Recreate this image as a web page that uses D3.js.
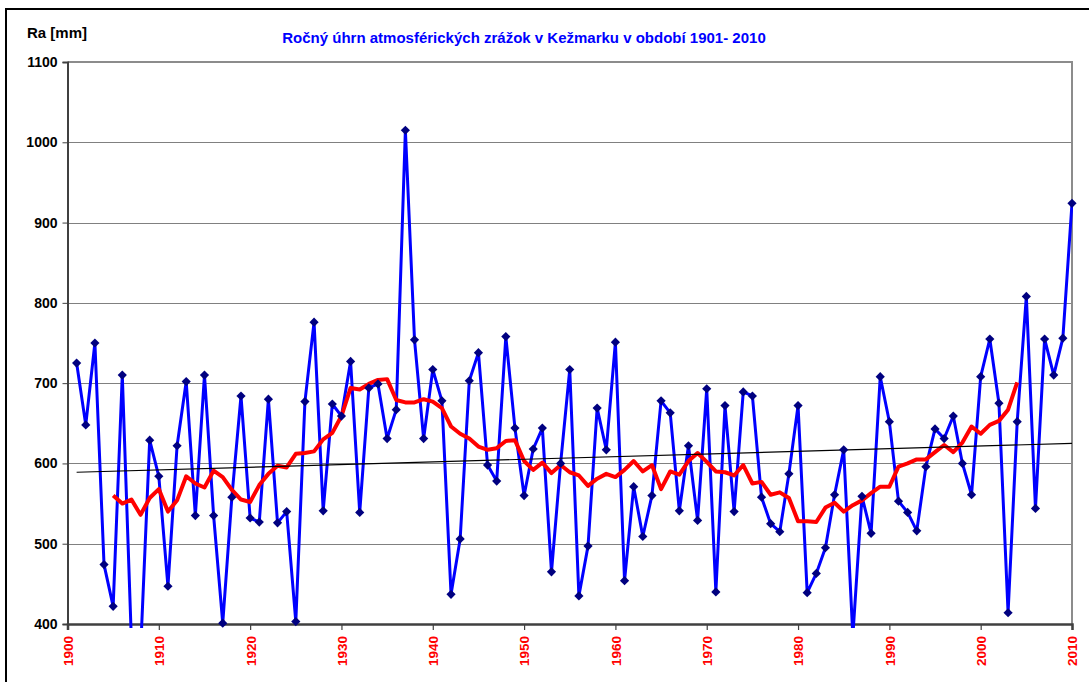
<!DOCTYPE html>
<html>
<head>
<meta charset="utf-8">
<script src="https://cdn.jsdelivr.net/npm/d3@7"></script>
<style>
  html, body { margin: 0; padding: 0; background: #fff; }
  svg { display: block; font-family: "Liberation Sans", Arial, sans-serif; }
</style>
</head>
<body>
<svg id="chart" width="1089" height="682"></svg>
<script>
// ---- data ----
const years = d3.range(1901, 2011);
const rainfall = [
  725, 648, 750, 474, 422, 710, 378, 365, 629, 584,
  447, 622, 702, 535, 710, 535, 401, 558, 684, 532,
  527, 680, 526, 540, 403, 677, 776, 541, 674, 659,
  727, 539, 694, 699, 631, 667, 1015, 754, 631, 717,
  678, 437, 506, 703, 738, 598, 578, 758, 644, 560,
  618, 644, 465, 600, 717, 435, 497, 669, 617, 751,
  454, 571, 509, 560, 678, 663, 541, 622, 529, 693,
  440, 672, 540, 689, 684, 558, 525, 515, 587, 672,
  439, 463, 495, 561, 617, 385, 559, 513, 708, 652,
  553, 539, 516, 596, 643, 631, 659, 600, 561, 708,
  755, 675, 414, 652, 808, 544, 755, 710, 756, 924
];
const avgYears = d3.range(1905, 2005);
const movingAvg = [
  560, 550, 555, 536, 557, 568, 540, 554, 584, 575,
  570, 591, 583, 567, 555, 552, 573, 587, 597, 595,
  612, 613, 615, 630, 638, 659, 694, 692, 699, 704,
  705, 679, 676, 676, 680, 677, 669, 646, 637, 631,
  621, 617, 619, 628, 629, 603, 592, 601, 588, 598,
  589, 585, 572, 581, 587, 583, 592, 603, 590, 598,
  568, 590, 586, 603, 613, 602, 590, 589, 585, 598,
  575, 577, 561, 564, 557, 528, 528, 527, 545, 551,
  540, 548, 554, 563, 571, 571, 596, 600, 605, 605,
  614, 623, 614, 626, 646, 637, 648, 653, 667, 701
];
const trendYears = [1901, 2010];
const trendValues = [589, 625];
const yTicks = [400, 500, 600, 700, 800, 900, 1000, 1100];
const xTicks = d3.range(1900, 2011, 10);
const titleText = "Ročný úhrn atmosférických zrážok v Kežmarku v období 1901- 2010";
const yLabelText = "Ra [mm]";

// ---- layout ----
const svg = d3.select("#chart");
const x = d3.scaleLinear().domain([1900, 2010]).range([67.5, 1072]);
const y = d3.scaleLinear().domain([400, 1100]).range([624, 62]);

// chart area border
svg.append("rect").attr("x", 6).attr("y", 9).attr("width", 1200).attr("height", 800)
  .attr("fill", "#fff").attr("stroke", "#000").attr("stroke-width", 2);

// clip for lines
svg.append("defs").append("clipPath").attr("id", "plotclip")
  .append("rect").attr("x", 67).attr("y", 55).attr("width", 1006).attr("height", 573);

// gridlines
svg.append("g").selectAll("line").data(yTicks.filter(d => d > 400 && d < 1100)).join("line")
  .attr("x1", x(1900)).attr("x2", x(2010))
  .attr("y1", d => Math.round(y(d)) + 0.5).attr("y2", d => Math.round(y(d)) + 0.5)
  .attr("stroke", "#000").attr("stroke-width", 1).attr("stroke-dasharray", "1,1");

// plot border top/right
svg.append("path")
  .attr("d", `M${x(1900)},${y(1100)}H${x(2010)}V${y(400)}`)
  .attr("fill", "none").attr("stroke", "#8c8c8c").attr("stroke-width", 2);

// y axis
const yAxis = svg.append("g").attr("transform", `translate(${x(1900)},0)`)
  .call(d3.axisLeft(y).tickValues(yTicks).tickSize(5).tickPadding(5).tickFormat(d3.format("d")));
yAxis.select(".domain").attr("stroke", "#404040").attr("stroke-width", 2);
yAxis.selectAll(".tick line").attr("stroke", "#404040").attr("stroke-width", 1);
yAxis.selectAll(".tick text").attr("font-family", "Liberation Sans, Arial, sans-serif")
  .attr("font-size", 14).attr("font-weight", "bold").attr("fill", "#000");

// x axis
const xAxis = svg.append("g").attr("transform", `translate(0,${y(400)})`)
  .call(d3.axisBottom(x).tickValues(xTicks).tickSize(6).tickFormat(d3.format("d")));
xAxis.select(".domain").attr("stroke", "#404040").attr("stroke-width", 2.5);
xAxis.selectAll(".tick line").attr("stroke", "#404040").attr("stroke-width", 1.2);
xAxis.selectAll(".tick text")
  .attr("font-family", "Liberation Sans, Arial, sans-serif")
  .attr("font-size", 13.5).attr("font-weight", "bold").attr("fill", "#ff0000")
  .attr("transform", "rotate(-90)")
  .attr("text-anchor", "end")
  .attr("x", -12).attr("y", 0).attr("dy", "0.36em");

const plot = svg.append("g").attr("clip-path", "url(#plotclip)");

// rainfall line
const line = d3.line().x((d, i) => x(years[i])).y(d => y(d));
plot.append("path").datum(rainfall).attr("d", line)
  .attr("fill", "none").attr("stroke", "#0000ff").attr("stroke-width", 3)
  .attr("stroke-linejoin", "round");

// markers
const diamond = "M0,-4.6L4.6,0L0,4.6L-4.6,0Z";
svg.append("g").selectAll("path").data(rainfall.map((v, i) => [years[i], v]).filter(d => d[1] >= 398))
  .join("path")
  .attr("d", diamond)
  .attr("transform", d => `translate(${x(d[0])},${y(d[1])})`)
  .attr("fill", "#000080");

// moving average
const avgLine = d3.line().x((d, i) => x(avgYears[i])).y(d => y(d));
plot.append("path").datum(movingAvg).attr("d", avgLine)
  .attr("fill", "none").attr("stroke", "#ff0000").attr("stroke-width", 4)
  .attr("stroke-linejoin", "round");

// trend line
const trendLine = d3.line().x((d, i) => x(trendYears[i])).y(d => y(d));
plot.append("path").datum(trendValues).attr("d", trendLine)
  .attr("fill", "none").attr("stroke", "#000").attr("stroke-width", 1.2);

// labels
svg.append("text").attr("x", 27).attr("y", 38).text(yLabelText)
  .attr("font-size", 15).attr("font-weight", "bold").attr("fill", "#000");
svg.append("text").attr("x", 524).attr("y", 43).attr("text-anchor", "middle").text(titleText)
  .attr("font-size", 15).attr("font-weight", "bold").attr("fill", "#0000ff");
</script>
</body>
</html>
